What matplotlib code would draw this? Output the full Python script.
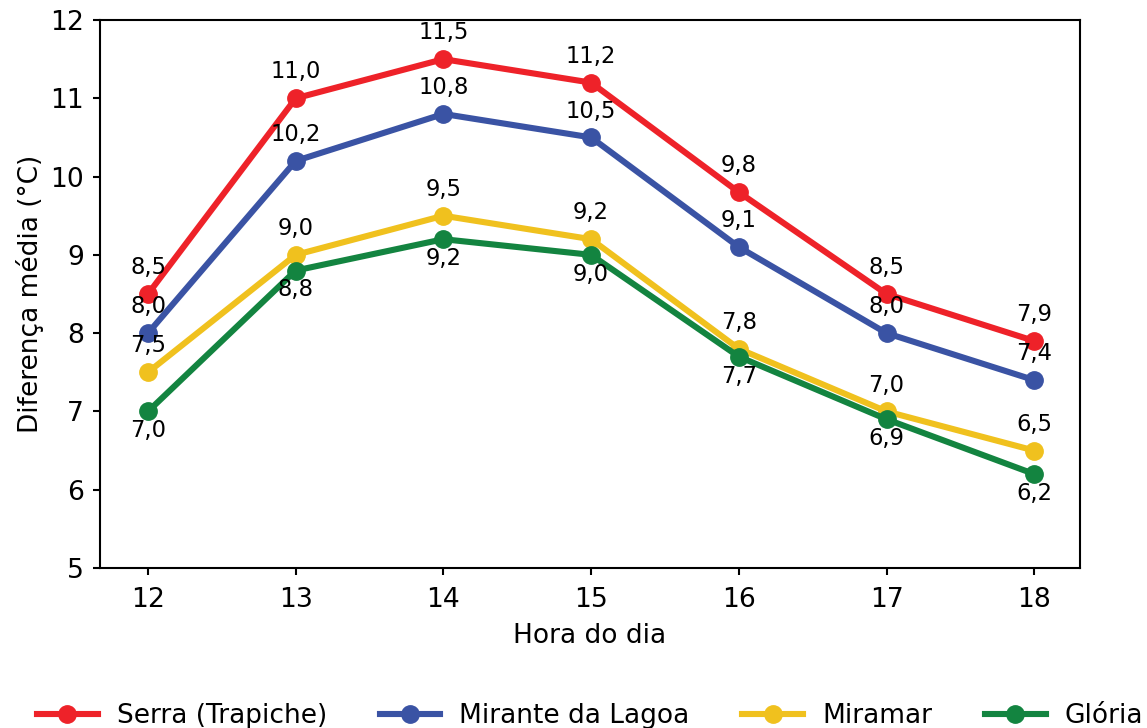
import matplotlib
matplotlib.use("Agg")
import matplotlib.pyplot as plt

hours = [12, 13, 14, 15, 16, 17, 18]
serra = [8.5, 11.0, 11.5, 11.2, 9.8, 8.5, 7.9]
mirante = [8.0, 10.2, 10.8, 10.5, 9.1, 8.0, 7.4]
miramar = [7.5, 9.0, 9.5, 9.2, 7.8, 7.0, 6.5]
gloria = [7.0, 8.8, 9.2, 9.0, 7.7, 6.9, 6.2]

series = [
    ("Serra (Trapiche)", serra, "#EE2229", "above"),
    ("Mirante da Lagoa", mirante, "#3A53A4", "above"),
    ("Miramar", miramar, "#F0C11E", "above"),
    ("Glória", gloria, "#138440", "below"),
]

fig = plt.figure(figsize=(11.47, 7.28), dpi=100)
ax = fig.add_axes([100/1147, 1-568/728, 980/1147, 548/728])

for name, vals, col, pos in series:
    ax.plot(hours, vals, color=col, lw=4.4, marker="o", ms=12.5, label=name, zorder=3)
    for h, v in zip(hours, vals):
        txt = f"{v:.1f}".replace(".", ",")
        if pos == "above":
            ax.annotate(txt, (h, v), xytext=(0, 19), textcoords="offset points",
                        ha="center", va="center", fontsize=16.3, zorder=4)
        else:
            ax.annotate(txt, (h, v), xytext=(0, -14), textcoords="offset points",
                        ha="center", va="center", fontsize=16.3, zorder=4)

ax.set_xlim(11.675, 18.31)
ax.set_ylim(5, 12)
ax.set_xticks(hours)
ax.set_yticks(range(5, 13))
ax.tick_params(labelsize=19.2, width=1.5, length=5)
ax.tick_params(axis="x", pad=8.5)
ax.tick_params(axis="y", pad=6.5)
for s in ax.spines.values():
    s.set_linewidth(1.5)
ax.set_xlabel("Hora do dia", fontsize=19, labelpad=7.5)
ax.set_ylabel("Diferença média (°C)", fontsize=19, labelpad=4.5)

ax.legend(loc="center", bbox_to_anchor=(0.5, -0.27), ncol=4, frameon=False,
          fontsize=19, handlelength=2.3, handletextpad=0.72)

fig.savefig("out.png", dpi=100)
